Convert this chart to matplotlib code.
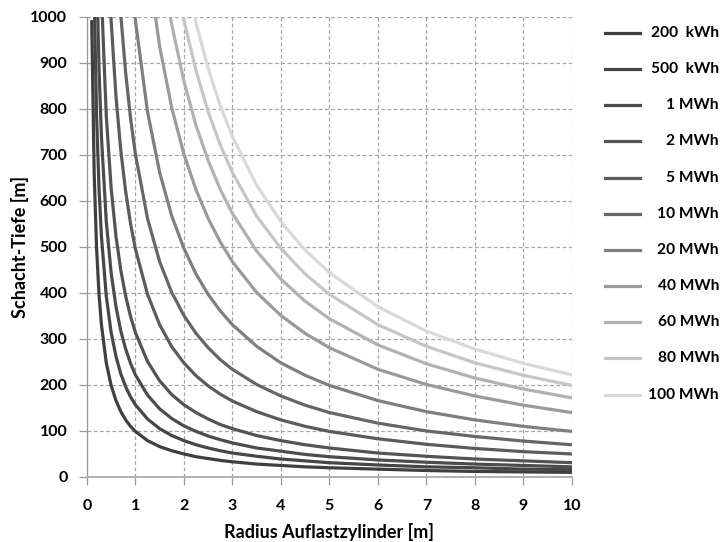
import numpy as np
import matplotlib.pyplot as plt
from matplotlib.lines import Line2D

plt.rcParams['font.family'] = ['Lato', 'DejaVu Sans']

# radius grid [m]; each series covers the last len(values) grid points
r_grid = [0.1, 0.15, 0.2, 0.25, 0.3, 0.4, 0.5, 0.6, 0.7, 0.8, 0.9, 1.0, 1.25, 1.5, 1.75,
          2.0, 2.25, 2.5, 2.75, 3.0, 3.5, 4.0, 4.5, 5.0, 6.0, 7.0, 8.0, 9.0, 10.0]

labels = ["200  kWh", "500  kWh", "1 MWh", "2 MWh", "5 MWh", "10 MWh",
          "20 MWh", "40 MWh", "60 MWh", "80 MWh", "100 MWh"]

d_200k = [993, 662, 497, 397, 331, 248, 199, 166, 142, 124, 110, 99, 79, 66, 57,
          50, 44, 40, 36, 33, 28, 25, 22, 20, 17, 14, 12, 11, 10]
d_500k = [1047, 785, 628, 523, 393, 314, 262, 224, 196, 174, 157, 126, 105, 90,
          79, 70, 63, 57, 52, 45, 39, 35, 31, 26, 22, 20, 17, 16]
d_1M = [1110, 888, 740, 555, 444, 370, 317, 278, 247, 222, 178, 148, 127,
        111, 99, 89, 81, 74, 63, 56, 49, 44, 37, 32, 28, 25, 22]
d_2M = [1047, 785, 628, 523, 449, 393, 349, 314, 251, 209, 179,
        157, 140, 126, 114, 105, 90, 79, 70, 63, 52, 45, 39, 35, 31]
d_5M = [1240, 992, 827, 709, 620, 551, 496, 397, 331, 283,
        248, 220, 198, 180, 165, 142, 124, 110, 99, 83, 71, 62, 55, 50]
d_10M = [1003, 878, 780, 702, 562, 468, 401,
         351, 312, 281, 255, 234, 201, 176, 156, 140, 117, 100, 88, 78, 70]
d_20M = [1103, 993, 794, 662, 567,
         497, 441, 397, 361, 331, 284, 248, 221, 199, 166, 142, 124, 110, 99]
d_40M = [1123, 936, 802,
         702, 624, 562, 511, 468, 401, 351, 312, 281, 234, 201, 176, 156, 140]
d_60M = [1147, 983,
         860, 764, 688, 625, 573, 491, 430, 382, 344, 287, 246, 215, 191, 172]
d_80M = [1135,
         993, 883, 794, 722, 662, 567, 497, 441, 397, 331, 284, 248, 221, 199]
d_100M = [1110, 987, 888, 807, 740, 634, 555, 493, 444, 370, 317, 278, 247, 222]

series = [d_200k, d_500k, d_1M, d_2M, d_5M, d_10M, d_20M, d_40M, d_60M, d_80M, d_100M]
colors = ['#3f3f3f', '#464646', '#4c4c4c', '#545454', '#5b5b5b', '#666666',
          '#7f7f7f', '#9a9a9a', '#b1b1b1', '#c6c6c6', '#d9d9d9']

fig = plt.figure(figsize=(7.24, 5.42), dpi=100)
ax = fig.add_axes([0.120, 0.120, 0.670, 0.8487])

for vals, c in zip(series, colors):
    x = r_grid[-len(vals):]
    ax.plot(x, vals, color=c, lw=2.3, solid_capstyle='butt')

ax.set_xlim(0, 10)
ax.set_ylim(0, 1000)
ax.set_xticks(range(0, 11))
ax.set_yticks(range(0, 1001, 100))
ax.grid(True, color='#a6a6a6', ls=(0, (3, 2)), lw=0.9)
ax.set_axisbelow(True)
for s in ['top', 'right']:
    ax.spines[s].set_visible(False)
ax.spines['left'].set_color('#999999')
ax.spines['left'].set_linewidth(0.9)
ax.spines['bottom'].set_color('#b0b0b0')
ax.spines['bottom'].set_linewidth(1.4)
ax.tick_params(axis='both', colors='#999999', length=6, width=0.9, labelcolor='black',
               labelsize=11.5)
ax.tick_params(axis='x', pad=10)
ax.tick_params(axis='y', pad=8)
for t in ax.get_xticklabels() + ax.get_yticklabels():
    t.set_fontweight('bold')

ax.set_xlabel("Radius Auflastzylinder [m]", fontsize=13, fontweight='bold')
ax.set_ylabel("Schacht-Tiefe [m]", fontsize=13, fontweight='bold')
ax.xaxis.set_label_coords(0.5, -0.12)
ax.yaxis.set_label_coords(-0.138, 0.5)
ax.xaxis.label.set_va('center')
ax.yaxis.label.set_va('center')

# legend drawn by hand so the labels can be right aligned
W, H = 724.0, 542.0
row_y = [33, 69, 105, 141, 178, 214, 250, 286, 322, 358, 395]
for py, lab, c in zip(row_y, labels, colors):
    fy = 1 - py / H
    fig.add_artist(Line2D([605 / W, 640 / W], [fy, fy], color=c, lw=2.3,
                          transform=fig.transFigure))
    fig.text(719 / W, fy, lab, ha='right', va='center', fontsize=11.2, fontweight='bold')

fig.savefig("out.png", dpi=100)
